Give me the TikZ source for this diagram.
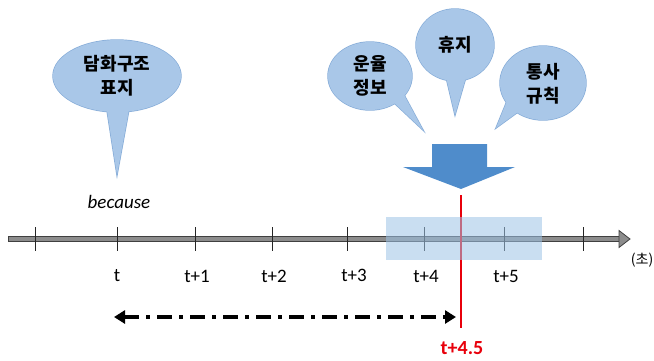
\documentclass[tikz,border=0pt]{standalone}
\usepackage{fontspec}
\setmainfont{Carlito}
\newfontfamily\kr{Noto Sans CJK KR}
\usetikzlibrary{arrows.meta}
\definecolor{bubfill}{HTML}{A9C7E8}
\definecolor{bubline}{HTML}{86ACD8}
\definecolor{blockc}{HTML}{4F8CCB}
\definecolor{hilite}{HTML}{9DC3E6}
\definecolor{redl}{HTML}{E8000B}
\tikzset{
  bubedge/.style={draw=bubline, line width=1.4},
  bubin/.style={fill=bubfill},
  krtext/.style={font=\kr\bfseries\fontsize{18}{24}\selectfont, align=center, inner sep=0},
  ticklbl/.style={font=\fontsize{19}{21}\selectfont, inner sep=0},
  tickmark/.style={draw=black!85, line width=1},
}
\begin{document}
\begin{tikzpicture}[x=1pt,y=-1pt]
\useasboundingbox (0,0) rectangle (654,360);
% bubble outlines
\draw[bubedge] (117,76) ellipse [x radius=64, y radius=36];
\draw[bubedge] (106,104) -- (117,175) -- (130,104);
\draw[bubedge] (370,76) ellipse [x radius=42, y radius=34];
\draw[bubedge] (390,99) -- (423,130) -- (403,93);
\draw[bubedge] (455,45) ellipse [x radius=39, y radius=36];
\draw[bubedge] (446,77) -- (455,115) -- (466,77);
\draw[bubedge] (543,83) ellipse [x radius=43, y radius=37];
\draw[bubedge] (507,101) -- (496,128) -- (518,112);
% bubble fills
\fill[bubin] (117,76) ellipse [x radius=64, y radius=36];
\fill[bubin] (106,104) -- (117,175) -- (130,104) -- cycle;
\fill[bubin] (370,76) ellipse [x radius=42, y radius=34];
\fill[bubin] (390,99) -- (423,130) -- (403,93) -- (395,88) -- cycle;
\fill[bubin] (455,45) ellipse [x radius=39, y radius=36];
\fill[bubin] (446,77) -- (455,115) -- (466,77) -- cycle;
\fill[bubin] (543,83) ellipse [x radius=43, y radius=37];
\fill[bubin] (507,101) -- (496,128) -- (518,112) -- (515,100) -- cycle;
% bubble texts
\node[krtext] (b1) at (117,76) {담화구조\\표지};
\node[krtext] (b2) at (370,76) {운율\\정보};
\node[krtext] (b3) at (455,45) {휴지};
\node[krtext] (b4) at (543,84) {통사\\규칙};
\node[font=\itshape\fontsize{19}{21}\selectfont, inner sep=0] (bec) at (119,202) {because};
% block arrow
\fill[blockc] (432,144) -- (487,144) -- (487,167) -- (515,167) -- (461,189) -- (403,167) -- (432,167) -- cycle;
% timeline
\draw[fill=black!45, draw=black!75, line width=0.8] (8,236.5) rectangle (620,241.5);
\draw[fill=black!45, draw=black!75, line width=0.8] (619,230.5) -- (630,239) -- (619,247.5) -- cycle;
\foreach \x in {35,117,195,272,347,424,504,583} \draw[tickmark] (\x,227) -- (\x,251);
\node[ticklbl] (t0) at (117,276) {t};
\node[ticklbl] (t1) at (197,276) {t+1};
\node[ticklbl] (t2) at (274,276) {t+2};
\node[ticklbl] (t3) at (354,275) {t+3};
\node[ticklbl] (t4) at (426,276) {t+4};
\node[ticklbl] (t5) at (506,276) {t+5};
\node[font=\kr\fontsize{14}{16}\selectfont, inner sep=0, anchor=east] (unit) at (653.5,260) {(초)};
% red line
\coordinate (rtop) at (461,195);
\coordinate (rbot) at (461,328);
\draw[redl, line width=2.4] (rtop) -- (rbot);
% highlight
\fill[hilite, opacity=0.55] (386,217) rectangle (542,260);
\node[redl, font=\bfseries\fontsize{20}{22}\selectfont, inner sep=0] (t45) at (462,348) {t+4.5};
% dash-dot span arrow
\coordinate (da) at (114,317);
\coordinate (db) at (456,317);
\draw[line width=3.6, dash pattern=on 15pt off 7pt on 4pt off 7pt,
  {Triangle[length=11pt,width=13pt]}-{Triangle[length=11pt,width=13pt]}] (da) -- (db);
\end{tikzpicture}
\end{document}
